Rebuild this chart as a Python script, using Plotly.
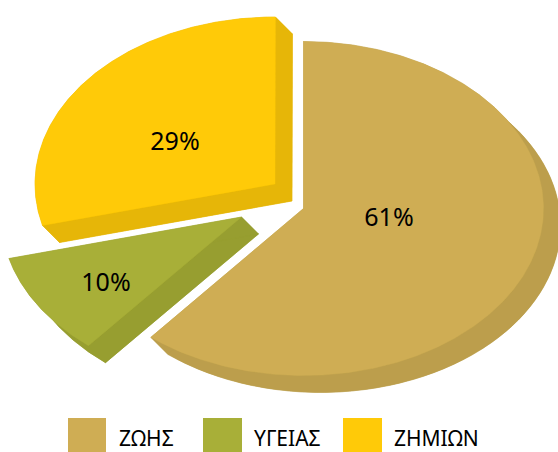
import numpy as np
import plotly.graph_objects as go

categories = ["ΖΩΗΣ", "ΥΓΕΙΑΣ", "ΖΗΜΙΩΝ"]
values = [61, 10, 29]
top_colors = ["#CFAD54", "#A8AF38", "#FFCA08"]
side_colors = ["#BC9E4C", "#979E30", "#E6B608"]

# layout (pixel-scale axes)
W, H = 558, 452
RX, RY = 240, 167
CENTRES = [(303.5, 208.5), (241.5, 217), (275, 184)]
DEPTH = (17, 17)
LABEL_POS = [(389, 220), (106, 285), (175, 144)]
SWATCHES = [(68, 106), (203, 242), (343, 382)]
SWATCH_Y = (418, 452)
LEGEND_TEXT_X = [119, 254, 394]
LEGEND_TEXT_Y = 438


def slice_outline(cx, cy, start, end):
    t = np.radians(np.arange(start, end + 0.25, 0.5))
    return cx + RX * np.sin(t), cy - RY * np.cos(t)


def poly(xs, ys, color):
    return go.Scatter(x=list(xs), y=list(ys), mode="lines", fill="toself", fillcolor=color,
                      line=dict(color=color, width=0.4), hoverinfo="skip", showlegend=False)


fig = go.Figure()
angle = 0.0
for value, (cx, cy), top, side in zip(values, CENTRES, top_colors, side_colors):
    start, end = angle, angle + value * 3.6
    angle = end
    ax, ay = slice_outline(cx, cy, start, end)
    dx, dy = DEPTH
    sx, sy = ax + dx, ay + dy
    # extruded body: lower copy, outer wall, two radial walls
    fig.add_trace(poly(np.r_[cx + dx, sx, cx + dx], np.r_[cy + dy, sy, cy + dy], side))
    fig.add_trace(poly(np.r_[ax, sx[::-1], ax[0]], np.r_[ay, sy[::-1], ay[0]], side))
    for ex, ey in ((ax[0], ay[0]), (ax[-1], ay[-1])):
        fig.add_trace(poly([cx, ex, ex + dx, cx + dx, cx], [cy, ey, ey + dy, cy + dy, cy], side))
    # top face
    fig.add_trace(poly(np.r_[cx, ax, cx], np.r_[cy, ay, cy], top))

fig.add_trace(go.Scatter(
    x=[p[0] for p in LABEL_POS], y=[p[1] for p in LABEL_POS],
    text=[f"{v}%" for v in values], mode="text", hoverinfo="skip", showlegend=False,
    textfont=dict(family="Noto Sans", size=25, color="#000000")))

shapes = [dict(type="rect", xref="x", yref="y", x0=a, x1=b, y0=SWATCH_Y[0], y1=SWATCH_Y[1],
               fillcolor=c, line_width=0, layer="below")
          for (a, b), c in zip(SWATCHES, top_colors)]
annotations = [dict(x=x, y=LEGEND_TEXT_Y, xref="x", yref="y", text=name, showarrow=False,
                    xanchor="left", yanchor="middle", xshift=-2,
                    font=dict(family="Noto Sans", size=21, color="#000000"))
               for x, name in zip(LEGEND_TEXT_X, categories)]

fig.update_layout(
    width=W, height=H, autosize=False, margin=dict(l=0, r=0, t=0, b=0),
    paper_bgcolor="white", plot_bgcolor="white", showlegend=False,
    xaxis=dict(range=[0, W], visible=False, fixedrange=True),
    yaxis=dict(range=[H, 0], visible=False, fixedrange=True),
    shapes=shapes, annotations=annotations)

fig.write_html("out.html", config={"displayModeBar": False},
               post_script="document.body.style.margin='0';document.documentElement.style.overflow='hidden';")
